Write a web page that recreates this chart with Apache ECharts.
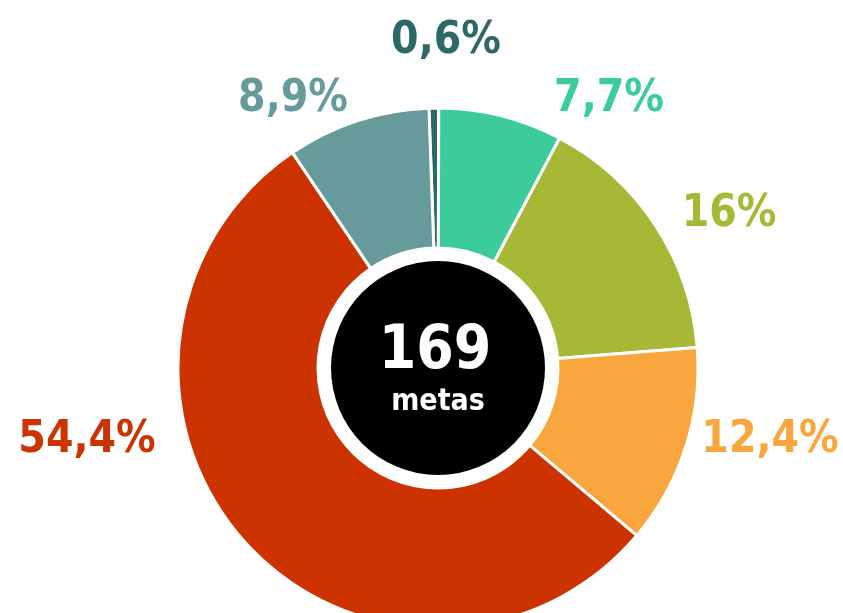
<!DOCTYPE html>
<html>
<head>
<meta charset="utf-8">
<script src="https://cdn.jsdelivr.net/npm/echarts@6/dist/echarts.min.js"></script>
<style>
  html, body { margin: 0; padding: 0; background: #fff; }
  #chart { width: 843px; height: 613px; }
</style>
</head>
<body>
<div id="chart"></div>
<script>
// slices, clockwise from the top
const sliceNames = ['a', 'b', 'c', 'd', 'e', 'f'];
const sliceValues = [0.6, 7.7, 16, 12.4, 54.4, 8.9];
const sliceLabels = ['0,6%', '7,7%', '16%', '12,4%', '54,4%', '8,9%'];
const sliceColors = ['#2d6766', '#3ccc9b', '#a6b836', '#f8a63d', '#cc3300', '#679b9b'];
const totalGoals = 169;
const totalCaption = 'metas';

// where each percentage label sits (text centre)
const labelPos = [[446, 42], [609, 100], [729, 215], [770, 441], [87, 441], [293, 100]];

const font = "'DejaVu Sans Condensed', 'DejaVu Sans', sans-serif";

const chart = echarts.init(document.getElementById('chart'));

chart.setOption({
  animation: false,
  series: [
    {
      type: 'pie',
      center: [438, 368],
      radius: [120, 260],
      startAngle: 92,
      clockwise: true,
      silent: true,
      itemStyle: { borderColor: '#fff', borderWidth: 3 },
      label: {
        show: true,
        position: 'outside',
        fontFamily: font,
        fontWeight: 'bold',
        fontSize: 44,
        overflow: 'none',
        formatter: p => sliceLabels[p.dataIndex]
      },
      labelLine: { show: false },
      labelLayout: p => ({
        x: labelPos[p.dataIndex][0],
        y: labelPos[p.dataIndex][1],
        align: 'center',
        verticalAlign: 'middle'
      }),
      data: sliceValues.map((v, i) => ({
        name: sliceNames[i],
        value: v,
        itemStyle: { color: sliceColors[i] },
        label: { color: sliceColors[i] }
      }))
    },
    {
      type: 'pie',
      center: [438, 368],
      radius: [0, 107],
      silent: true,
      itemStyle: { color: '#000' },
      label: {
        show: true,
        position: 'center',
        formatter: p => '{n|' + p.value + '}\n{c|' + totalCaption + '}',
        rich: {
          n: { fontFamily: font, fontWeight: 'bold', fontSize: 60, color: '#fff', lineHeight: 60, padding: [4, 6, 0, 0] },
          c: { fontFamily: font, fontWeight: 'bold', fontSize: 30, color: '#fff', lineHeight: 36, padding: [8, 0, 0, 0] }
        }
      },
      labelLine: { show: false },
      data: [{ name: 'total', value: totalGoals }]
    }
  ]
});
</script>
</body>
</html>
